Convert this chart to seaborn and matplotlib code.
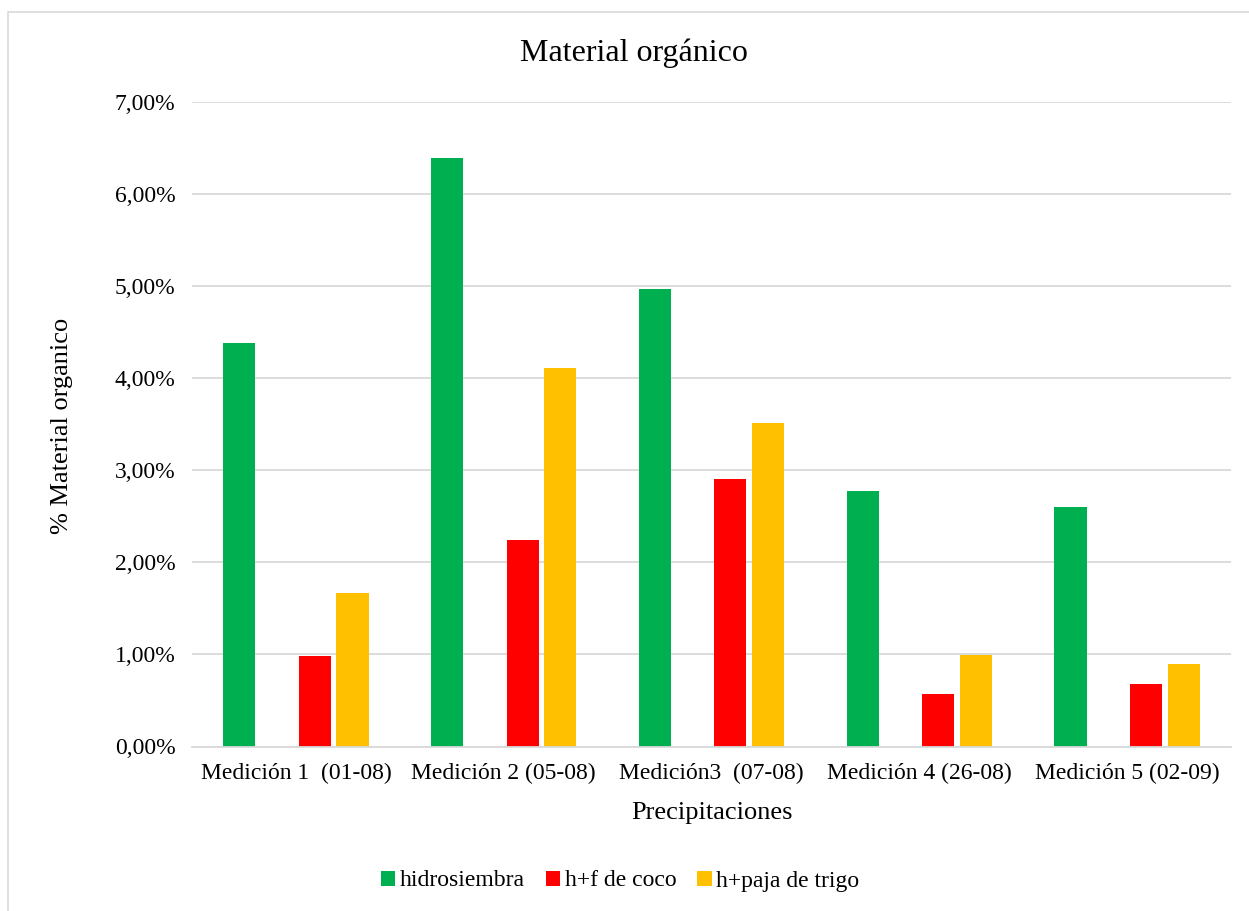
import matplotlib
matplotlib.use("Agg")
import matplotlib.pyplot as plt
from matplotlib.patches import Patch, Rectangle
import pandas as pd
import seaborn as sns

# Datos: % de material orgánico por medición y tratamiento
mediciones = ["Medición 1  (01-08)", "Medición 2 (05-08)", "Medición3  (07-08)",
              "Medición 4 (26-08)", "Medición 5 (02-09)"]
hidrosiembra = [4.38, 6.39, 4.97, 2.78, 2.60]
h_f_coco = [0.98, 2.24, 2.90, 0.57, 0.68]
h_paja_trigo = [1.67, 4.11, 3.51, 0.99, 0.90]
y_ticks = [0, 1, 2, 3, 4, 5, 6, 7]

series = {
    "hidrosiembra": hidrosiembra,
    "h+f de coco": h_f_coco,
    "h+paja de trigo": h_paja_trigo,
}
colores = {
    "hidrosiembra": "#00B050",
    " ": "#FFFFFF",          # serie vacía que deja el hueco del segundo puesto
    "h+f de coco": "#FF0000",
    "h+paja de trigo": "#FFC000",
}
orden = ["hidrosiembra", " ", "h+f de coco", "h+paja de trigo"]

df = pd.DataFrame(
    [(m, nombre, v) for nombre, vals in series.items() for m, v in zip(mediciones, vals)],
    columns=["medicion", "serie", "valor"],
)

sns.set_theme(style="white")
plt.rcParams["font.family"] = ["Liberation Serif", "DejaVu Serif"]
plt.rcParams["text.color"] = "#000000"

fig = plt.figure(figsize=(12.49, 9.11), dpi=100)
W, H = 1249, 911

# Marco del área del gráfico (cortado a la derecha y abajo)
fig.patches.append(Rectangle((8 / W, -0.1), 1.2, 1.1 - 12 / H, transform=fig.transFigure,
                             fill=False, edgecolor="#d9d9d9", linewidth=1.2))

ax = fig.add_axes([192 / W, (H - 746.5) / H, 1039 / W, 644.5 / H])

sns.barplot(data=df, x="medicion", y="valor", hue="serie", hue_order=orden,
            order=mediciones, palette=colores, width=0.726, gap=0.15,
            saturation=1, legend=False, edgecolor="none", linewidth=0, ax=ax)

ax.set_ylim(0, 7)
ax.set_xlim(-0.5, len(mediciones) - 0.5)
ax.set_yticks(y_ticks)
ax.set_yticklabels([f"{v:.2f}%".replace(".", ",") for v in y_ticks])
ax.yaxis.grid(True, color="#d9d9d9", linewidth=1.3)
ax.set_axisbelow(True)
for s in ["top", "right", "left"]:
    ax.spines[s].set_visible(False)
ax.spines["bottom"].set_color("#d9d9d9")
ax.spines["bottom"].set_linewidth(1.3)
ax.tick_params(axis="both", length=0, labelsize=17, colors="#000000")
ax.tick_params(axis="y", pad=12)
ax.tick_params(axis="x", pad=12)
ax.set_xlabel("")
ax.set_ylabel("")

fig.text(634 / W, 1 - 53 / H, "Material orgánico", ha="center", va="center",
         fontsize=23, color="#000000")
fig.text(62 / W, 1 - 426 / H, "% Material organico", ha="center", va="center",
         rotation=90, fontsize=19, color="#000000")
fig.text(712 / W, 1 - 813 / H, "Precipitaciones", ha="center", va="center",
         fontsize=19, color="#000000")

handles = [Patch(facecolor=colores[n], edgecolor="none", label=n) for n in series]
fig.legend(handles=handles, loc="center", bbox_to_anchor=(620 / W, 1 - 881 / H),
           ncol=3, frameon=False, fontsize=17, handlelength=0.6, handleheight=0.6,
           handletextpad=0.2, columnspacing=0.9, labelcolor="#000000")

fig.savefig("out.png", dpi=100)
